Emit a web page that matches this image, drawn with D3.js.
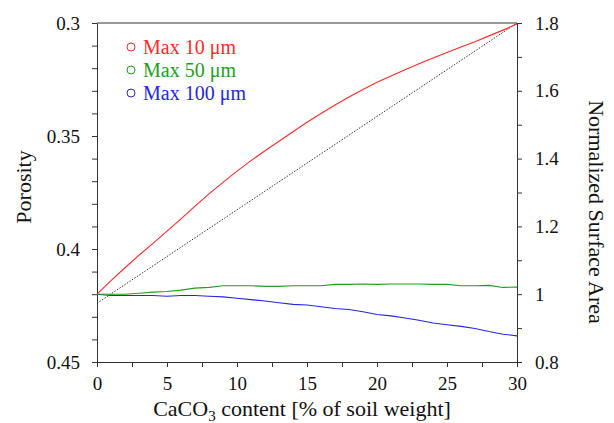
<!DOCTYPE html>
<html>
<head>
<meta charset="utf-8">
<script src="https://cdn.jsdelivr.net/npm/d3@7"></script>
<style>
  body { margin: 0; background: #fff; }
  svg text { font-family: Liberation Serif, Tinos, Times New Roman, Times, DejaVu Serif, serif !important; }
</style>
</head>
<body>
<svg width="614" height="423"></svg>
<script>
// CaCO3 content [% of soil weight]
var xs = [0,1,2,3,4,5,6,7,8,9,10,11,12,13,14,15,16,17,18,19,20,21,22,23,24,25,26,27,28,29,30];

// normalized surface area (right axis)
var max10 = [1.000,1.040,1.078,1.115,1.150,1.186,1.222,1.260,1.296,1.330,1.363,1.394,1.423,1.451,1.479,1.507,
             1.533,1.558,1.582,1.604,1.625,1.644,1.662,1.680,1.697,1.713,1.729,1.745,1.762,1.779,1.797];
var max50 = [1.000,1.000,1.000,1.003,1.006,1.008,1.012,1.018,1.020,1.025,1.025,1.025,1.023,1.023,1.025,1.025,
             1.025,1.029,1.029,1.030,1.029,1.030,1.030,1.030,1.029,1.029,1.025,1.025,1.026,1.020,1.021];
var max100 = [1.000,0.996,0.996,0.996,0.996,0.994,0.996,0.996,0.994,0.992,0.988,0.984,0.980,0.975,0.970,0.968,
              0.963,0.958,0.955,0.948,0.940,0.936,0.930,0.923,0.915,0.910,0.905,0.899,0.890,0.882,0.877];

// porosity (left axis), dotted reference
var porX = [0, 30];
var porosity = [0.424, 0.300];

var seriesNames = ["Max 10 \u03bcm", "Max 50 \u03bcm", "Max 100 \u03bcm"];
var seriesColors = ["#ff2a2a", "#1ca01c", "#2626e0"];

var xTicks = d3.range(0, 30.01, 2.5);
var leftTicks = d3.range(0, 16).map(function(i) { return +(0.3 + i * 0.01).toFixed(2); });
var rightTicks = d3.range(0, 11).map(function(i) { return +(0.8 + i * 0.1).toFixed(1); });

var svg = d3.select("svg"),
    plotL = 97, plotR = 517, plotT = 23, plotB = 362;

var x = d3.scaleLinear().domain([0, 30]).range([plotL, plotR]);
var yL = d3.scaleLinear().domain([0.3, 0.45]).range([plotT, plotB]);
var yR = d3.scaleLinear().domain([0.8, 1.8]).range([plotB, plotT]);

function styleAxis(g) {
  g.attr("font-family", null);
  g.selectAll("path, line").attr("stroke", "#333").attr("stroke-width", 1);
  g.selectAll("text").attr("font-size", 19).attr("fill", "#111");
}

svg.append("g")
    .attr("transform", "translate(0," + plotB + ")")
    .call(d3.axisBottom(x).tickValues(xTicks).tickSize(5).tickSizeOuter(0).tickPadding(10)
      .tickFormat(function(d) { return d % 5 === 0 ? d : ""; }))
    .call(styleAxis);

svg.append("g")
    .attr("transform", "translate(" + plotL + ",0)")
    .call(d3.axisLeft(yL).tickValues(leftTicks).tickSize(5).tickSizeOuter(0).tickPadding(12)
      .tickFormat(function(d) { return Math.round(d * 100) % 5 === 0 ? d3.format("")(d) : ""; }))
    .call(styleAxis);

svg.append("g")
    .attr("transform", "translate(" + plotR + ",0)")
    .call(d3.axisRight(yR).tickValues(rightTicks).tickSize(5).tickSizeOuter(0).tickPadding(13)
      .tickFormat(function(d) { return Math.round(d * 10) % 2 === 0 ? d3.format("")(d) : ""; }))
    .call(styleAxis);

// top frame
svg.append("line")
    .attr("x1", plotL).attr("x2", plotR).attr("y1", plotT).attr("y2", plotT)
    .attr("stroke", "#333");

// dotted porosity line
svg.append("path")
    .datum(d3.zip(porX, porosity))
    .attr("fill", "none")
    .attr("stroke", "#333")
    .attr("stroke-width", 1)
    .attr("stroke-dasharray", "1.5,1.5")
    .attr("d", d3.line().x(function(d) { return x(d[0]); }).y(function(d) { return yL(d[1]); }));

var line = d3.line()
    .x(function(d) { return x(d[0]); })
    .y(function(d) { return yR(d[1]); });

[max100, max50, max10].forEach(function(s, i) {
  var c = seriesColors[2 - i];
  svg.append("path")
      .datum(d3.zip(xs, s))
      .attr("fill", "none")
      .attr("stroke", c)
      .attr("stroke-width", 1.1)
      .attr("d", line);
});

// legend
seriesNames.forEach(function(name, i) {
  var yy = 47 + i * 23;
  svg.append("circle")
      .attr("cx", 131).attr("cy", yy).attr("r", 4)
      .attr("fill", "none").attr("stroke", seriesColors[i]).attr("stroke-width", 1);
  svg.append("text")
      .attr("x", 143).attr("y", yy + 6.5)
      .attr("font-size", 20)
      .attr("fill", seriesColors[i])
      .text(name);
});

// axis titles
var xt = svg.append("text")
    .attr("x", (plotL + plotR) / 2 - 5).attr("y", 416)
    .attr("text-anchor", "middle")
    .attr("font-size", 22)
    .attr("fill", "#111");
xt.append("tspan").text("CaCO");
xt.append("tspan").attr("font-size", 15).attr("dy", 5).text("3");
xt.append("tspan").attr("dy", -5).text(" content [% of soil weight]");

svg.append("text")
    .attr("transform", "translate(31,187) rotate(-90)")
    .attr("text-anchor", "middle")
    .attr("font-size", 22)
    .attr("fill", "#111")
    .text("Porosity");

svg.append("text")
    .attr("transform", "translate(589,212) rotate(90)")
    .attr("text-anchor", "middle")
    .attr("font-size", 22)
    .attr("fill", "#111")
    .text("Normalized Surface Area");
</script>
</body>
</html>
